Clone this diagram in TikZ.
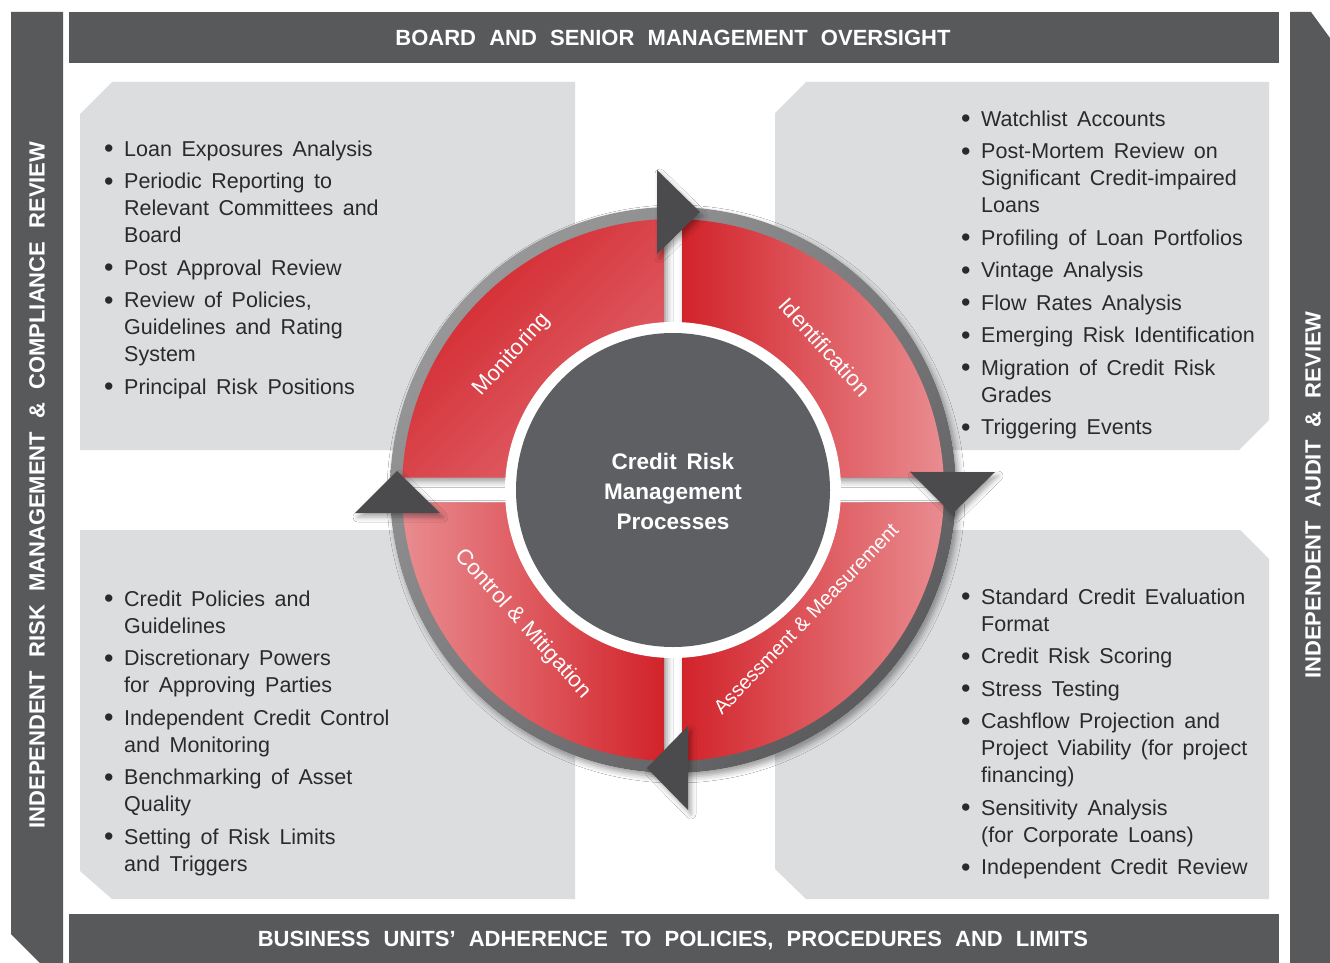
\documentclass[tikz,border=0pt]{standalone}
\usepackage{fontspec}
\setmainfont{Liberation Sans}[WordSpace=1.6]
\usetikzlibrary{shadings,shadows.blur}

\definecolor{bargray}{HTML}{58595B}
\definecolor{panelgray}{HTML}{DCDDDF}
\definecolor{coregray}{HTML}{5E5F62}
\definecolor{tipgray}{HTML}{4B4B4D}
\definecolor{txtc}{HTML}{2A2A2A}
\definecolor{rdark}{HTML}{D2232A}
\definecolor{rlight}{HTML}{E98C90}
\definecolor{rmon}{HTML}{E1666D}
\definecolor{bandlight}{HTML}{A3A3A4}
\definecolor{bandmid}{HTML}{7C7C7E}
\definecolor{banddark}{HTML}{4E4E50}

% annular quarter with the cross-shaped gap: sign x, sign y, radius
\newcommand{\quadpath}[3]{(#1*9,#2*12.5) -- ({#2*(90-#1*asin(9/#3))}:#3)
  arc[start angle={#2*(90-#1*asin(9/#3))}, end angle={#2*(90-#1*(90-asin(12.5/#3)))}, radius=#3] -- cycle}
% list bullet in a fixed-width box
\newcommand{\bul}{\makebox[20pt][l]{\raisebox{-1.5pt}{\fontsize{27}{27}\selectfont\textbullet}}}
% word gaps for band titles and wheel labels
\newcommand{\widegap}[1]{{\spaceskip=0.6em\relax #1}}
\newcommand{\tightgap}[1]{{\spaceskip=0.28em\relax #1}}

\tikzset{
  band/.style={fill=bargray},
  panel/.style={fill=panelgray},
  bandtxt/.style={text=white, font=\bfseries\fontsize{22}{24}\selectfont},
  listtxt/.style={anchor=north west, inner sep=0pt, text=txtc, font=\fontsize{21.5}{27}\selectfont},
  ringtxt/.style={text=white, inner sep=0pt, font=\fontsize{22}{26}\selectfont},
  tip/.style={fill=tipgray, blur shadow={shadow xshift=3pt, shadow yshift=-4pt, shadow blur radius=5pt, shadow opacity=35}},
  monred/.style={top color=rdark, bottom color=rmon, shading angle=45},
  idred/.style={left color=rdark, right color=rlight},
  assred/.style={left color=rdark, right color=rlight},
  conred/.style={left color=rlight, right color=rdark}
}

\begin{document}
\begin{tikzpicture}[x=1pt, y=-1pt]
\useasboundingbox (0,0) rectangle (1330,963);
\fill[white] (0,0) rectangle (1330,963);

% frame bands
\fill[band] (11,12) -- (63,12) -- (63,963) -- (40,963) -- (11,934) -- cycle;
\fill[band] (1290,12) -- (1311,12) -- (1330,38) -- (1330,963) -- (1290,963) -- cycle;
\fill[band] (69,12) rectangle (1279,63);
\fill[band] (69,914) rectangle (1279,963);

\node[bandtxt] (board) at (673,38) {\widegap{BOARD AND SENIOR MANAGEMENT OVERSIGHT}};
\node[bandtxt] (units) at (673,941) {\widegap{BUSINESS UNITS’ ADHERENCE TO POLICIES, PROCEDURES AND LIMITS}};
\node[bandtxt, rotate=90] (irm) at (37,485) {\widegap{INDEPENDENT RISK MANAGEMENT \& COMPLIANCE REVIEW}};
\node[bandtxt, rotate=90] (audit) at (1313,495) {\widegap{INDEPENDENT AUDIT \& REVIEW}};

% grey panels
\fill[panel] (80,114) -- (112,82) -- (575,82) -- (575,450) -- (80,450) -- cycle;
\fill[panel] (775,113) -- (806,82) -- (1269,82) -- (1269,420) -- (1239,450) -- (775,450) -- cycle;
\fill[panel] (80,530) -- (575,530) -- (575,899) -- (112,899) -- (80,871) -- cycle;
\fill[panel] (775,530) -- (1240,530) -- (1269,559) -- (1269,899) -- (806,899) -- (775,869) -- cycle;

% process wheel
\begin{scope}[shift={(673,490)}]
  \foreach \sx/\sy in {-1/-1, 1/-1, 1/1, -1/1}
    \fill[white, blur shadow={shadow xshift=3pt, shadow yshift=-4pt, shadow blur radius=6pt, shadow opacity=40}] \quadpath{\sx}{\sy}{283};
  \foreach \sx/\sy/\shd in {-1/-1/monred, 1/-1/idred, 1/1/assred, -1/1/conred} {
    \begin{scope}
      \clip \quadpath{\sx}{\sy}{283};
      \shade[upper left=bandlight, upper right=bandmid, lower left=bandmid, lower right=banddark] (0,0) circle (283);
    \end{scope}
    \shade[\shd] \quadpath{\sx}{\sy}{271};
  }
  \fill[white] (0,0) circle (168);
  \fill[coregray] (0,0) circle (157);
\end{scope}

% arrow tips between the steps
\fill[tip] (657,170) -- (657,254) -- (700,212) -- cycle;
\fill[tip] (910,472) -- (995,472) -- (952,514) -- cycle;
\fill[tip] (688,726) -- (688,810) -- (647,768) -- cycle;
\fill[tip] (355,513) -- (440,513) -- (397,471) -- cycle;

\node[text=white, align=center, font=\bfseries\fontsize{22.5}{30}\selectfont] (crmp) at (673,491)
  {Credit Risk\\Management\\Processes};

\node[ringtxt, rotate=48] (mon) at (512,355) {Monitoring};
\node[ringtxt, rotate=-48] (ident) at (825,347) {Identification};
\node[ringtxt, rotate=-48] (ctrl) at (523,624) {\tightgap{Control \& Mitigation}};
\node[ringtxt, rotate=46, font=\fontsize{20}{24}\selectfont] (assess) at (806,619) {\tightgap{Assessment \& Measurement}};

% bullet lists
\node[listtxt] (monlist) at (104,137) {%
\begin{tabular}{@{}l@{}l@{}}
\bul & Loan Exposures Analysis\\[5.5pt]
\bul & Periodic Reporting to\\
 & Relevant Committees and\\
 & Board\\[5.5pt]
\bul & Post Approval Review\\[5.5pt]
\bul & Review of Policies,\\
 & Guidelines and Rating\\
 & System\\[5.5pt]
\bul & Principal Risk Positions
\end{tabular}};

\node[listtxt] (idlist) at (961,107) {%
\begin{tabular}{@{}l@{}l@{}}
\bul & Watchlist Accounts\\[5.5pt]
\bul & Post-Mortem Review on\\
 & Significant Credit-impaired\\
 & Loans\\[5.5pt]
\bul & Profiling of Loan Portfolios\\[5.5pt]
\bul & Vintage Analysis\\[5.5pt]
\bul & Flow Rates Analysis\\[5.5pt]
\bul & Emerging Risk Identification\\[5.5pt]
\bul & Migration of Credit Risk\\
 & Grades\\[5.5pt]
\bul & Triggering Events
\end{tabular}};

\node[listtxt] (conlist) at (104,587) {%
\begin{tabular}{@{}l@{}l@{}}
\bul & Credit Policies and\\
 & Guidelines\\[5.5pt]
\bul & Discretionary Powers\\
 & for Approving Parties\\[5.5pt]
\bul & Independent Credit Control\\
 & and Monitoring\\[5.5pt]
\bul & Benchmarking of Asset\\
 & Quality\\[5.5pt]
\bul & Setting of Risk Limits\\
 & and Triggers
\end{tabular}};

\node[listtxt] (asslist) at (961,585) {%
\begin{tabular}{@{}l@{}l@{}}
\bul & Standard Credit Evaluation\\
 & Format\\[5.5pt]
\bul & Credit Risk Scoring\\[5.5pt]
\bul & Stress Testing\\[5.5pt]
\bul & Cashflow Projection and\\
 & Project Viability (for project\\
 & financing)\\[5.5pt]
\bul & Sensitivity Analysis\\
 & (for Corporate Loans)\\[5.5pt]
\bul & Independent Credit Review
\end{tabular}};
\end{tikzpicture}
\end{document}
